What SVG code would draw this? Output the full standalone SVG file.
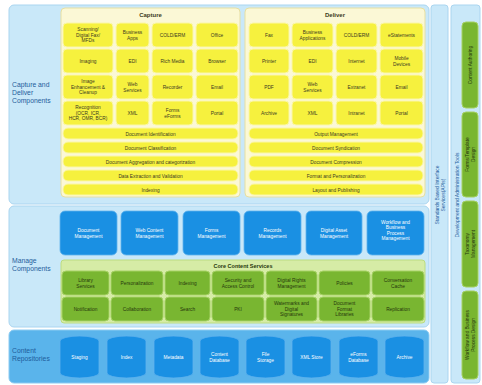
<svg xmlns="http://www.w3.org/2000/svg" width="482" height="385" viewBox="0 0 482 385">
<style>
text{font-family:"Liberation Sans",Arial,sans-serif;text-anchor:middle}
.sec{fill:#c9e8f9;stroke:#aad5f0;stroke-width:1}
.repo{fill:#5ab4eb;stroke:#8ccbf2;stroke-width:1}
.pan{fill:#fbf8d6;stroke:#e6dfa2;stroke-width:1}
.y{fill:#f6f13e;stroke:#fbf7a8;stroke-width:1}
.yt{font-size:4.8px;fill:#3b3a22}
.ttl{font-size:6px;font-weight:bold;fill:#3b3a22}
.b{fill:#1a90e3;stroke:#5fb3ee;stroke-width:0.8}
.bt{font-size:4.8px;fill:#ffffff}
.core{fill:#d6eca6;stroke:#bcdc80;stroke-width:1}
.g{fill:#79b631;stroke:#a6d165;stroke-width:1}
.gt{font-size:4.8px;fill:#26360c}
.lab{font-size:6.8px;fill:#1f5d9c;text-anchor:start}
.vt{font-size:5px;fill:#1f5d9c}
.vg{font-size:4.8px;fill:#26360c}
</style>

<!-- Capture and Deliver section -->
<g id="capture-deliver">
<rect class="sec" x="9" y="5" width="420" height="199" rx="5"/>
<text class="lab" x="12" y="87">Capture and</text>
<text class="lab" x="12" y="95">Deliver</text>
<text class="lab" x="12" y="103">Components</text>
</g>

<g id="capture">
<rect class="pan" x="61" y="8" width="179" height="189" rx="4"/>
<text class="ttl" x="150.5" y="17">Capture</text>
<rect class="y" x="63" y="23" width="50" height="24" rx="4"/>
<text class="yt" x="88" y="31.3">Scanning/</text><text class="yt" x="88" y="36.8">Digital Fax/</text><text class="yt" x="88" y="42.3">MFDs</text>
<rect class="y" x="116" y="23" width="33" height="24" rx="4"/>
<text class="yt" x="132.5" y="34.1">Business</text><text class="yt" x="132.5" y="39.6">Apps</text>
<rect class="y" x="152" y="23" width="41" height="24" rx="4"/>
<text class="yt" x="172.5" y="36.8">COLD/ERM</text>
<rect class="y" x="196" y="23" width="42" height="24" rx="4"/>
<text class="yt" x="217" y="36.8">Office</text>

<rect class="y" x="63" y="49" width="50" height="24" rx="4"/>
<text class="yt" x="88" y="62.8">Imaging</text>
<rect class="y" x="116" y="49" width="33" height="24" rx="4"/>
<text class="yt" x="132.5" y="62.8">EDI</text>
<rect class="y" x="152" y="49" width="41" height="24" rx="4"/>
<text class="yt" x="172.5" y="62.8">Rich Media</text>
<rect class="y" x="196" y="49" width="42" height="24" rx="4"/>
<text class="yt" x="217" y="62.8">Browser</text>

<rect class="y" x="63" y="75" width="50" height="24" rx="4"/>
<text class="yt" x="88" y="83.3">Image</text><text class="yt" x="88" y="88.8">Enhancement &amp;</text><text class="yt" x="88" y="94.3">Cleanup</text>
<rect class="y" x="116" y="75" width="33" height="24" rx="4"/>
<text class="yt" x="132.5" y="86.1">Web</text><text class="yt" x="132.5" y="91.6">Services</text>
<rect class="y" x="152" y="75" width="41" height="24" rx="4"/>
<text class="yt" x="172.5" y="88.8">Recorder</text>
<rect class="y" x="196" y="75" width="42" height="24" rx="4"/>
<text class="yt" x="217" y="88.8">Email</text>

<rect class="y" x="63" y="101" width="50" height="24" rx="4"/>
<text class="yt" x="88" y="109.3">Recognition</text><text class="yt" x="88" y="114.8">(OCR, ICR,</text><text class="yt" x="88" y="120.3">HCR, OMR, BCR)</text>
<rect class="y" x="116" y="101" width="33" height="24" rx="4"/>
<text class="yt" x="132.5" y="114.8">XML</text>
<rect class="y" x="152" y="101" width="41" height="24" rx="4"/>
<text class="yt" x="172.5" y="112.1">Forms</text><text class="yt" x="172.5" y="117.6">eForms</text>
<rect class="y" x="196" y="101" width="42" height="24" rx="4"/>
<text class="yt" x="217" y="114.8">Portal</text>

<rect class="y" x="63" y="128" width="175" height="11" rx="5"/>
<text class="yt" x="150.5" y="135.5">Document Identification</text>
<rect class="y" x="63" y="142" width="175" height="11" rx="5"/>
<text class="yt" x="150.5" y="149.5">Document Classification</text>
<rect class="y" x="63" y="156" width="175" height="11" rx="5"/>
<text class="yt" x="150.5" y="163.5">Document Aggregation and categorization</text>
<rect class="y" x="63" y="170" width="175" height="11" rx="5"/>
<text class="yt" x="150.5" y="177.5">Data Extraction and Validation</text>
<rect class="y" x="63" y="184" width="175" height="11" rx="5"/>
<text class="yt" x="150.5" y="191.5">Indexing</text>
</g>

<g id="deliver">
<rect class="pan" x="245" y="8" width="180" height="189" rx="4"/>
<text class="ttl" x="335" y="17">Deliver</text>
<rect class="y" x="249" y="23" width="40" height="24" rx="4"/>
<text class="yt" x="269" y="36.8">Fax</text>
<rect class="y" x="292" y="23" width="41" height="24" rx="4"/>
<text class="yt" x="312.5" y="34.1">Business</text><text class="yt" x="312.5" y="39.6">Applications</text>
<rect class="y" x="336" y="23" width="41" height="24" rx="4"/>
<text class="yt" x="356.5" y="36.8">COLD/ERM</text>
<rect class="y" x="380" y="23" width="43" height="24" rx="4"/>
<text class="yt" x="401.5" y="36.8">eStatements</text>

<rect class="y" x="249" y="49" width="40" height="24" rx="4"/>
<text class="yt" x="269" y="62.8">Printer</text>
<rect class="y" x="292" y="49" width="41" height="24" rx="4"/>
<text class="yt" x="312.5" y="62.8">EDI</text>
<rect class="y" x="336" y="49" width="41" height="24" rx="4"/>
<text class="yt" x="356.5" y="62.8">Internet</text>
<rect class="y" x="380" y="49" width="43" height="24" rx="4"/>
<text class="yt" x="401.5" y="60.1">Mobile</text><text class="yt" x="401.5" y="65.6">Devices</text>

<rect class="y" x="249" y="75" width="40" height="24" rx="4"/>
<text class="yt" x="269" y="88.8">PDF</text>
<rect class="y" x="292" y="75" width="41" height="24" rx="4"/>
<text class="yt" x="312.5" y="86.1">Web</text><text class="yt" x="312.5" y="91.6">Services</text>
<rect class="y" x="336" y="75" width="41" height="24" rx="4"/>
<text class="yt" x="356.5" y="88.8">Extranet</text>
<rect class="y" x="380" y="75" width="43" height="24" rx="4"/>
<text class="yt" x="401.5" y="88.8">Email</text>

<rect class="y" x="249" y="101" width="40" height="24" rx="4"/>
<text class="yt" x="269" y="114.8">Archive</text>
<rect class="y" x="292" y="101" width="41" height="24" rx="4"/>
<text class="yt" x="312.5" y="114.8">XML</text>
<rect class="y" x="336" y="101" width="41" height="24" rx="4"/>
<text class="yt" x="356.5" y="114.8">Intranet</text>
<rect class="y" x="380" y="101" width="43" height="24" rx="4"/>
<text class="yt" x="401.5" y="114.8">Portal</text>

<rect class="y" x="249" y="128" width="174" height="11" rx="5"/>
<text class="yt" x="336" y="135.5">Output Management</text>
<rect class="y" x="249" y="142" width="174" height="11" rx="5"/>
<text class="yt" x="336" y="149.5">Document Syndication</text>
<rect class="y" x="249" y="156" width="174" height="11" rx="5"/>
<text class="yt" x="336" y="163.5">Document Compression</text>
<rect class="y" x="249" y="170" width="174" height="11" rx="5"/>
<text class="yt" x="336" y="177.5">Format and Personalization</text>
<rect class="y" x="249" y="184" width="174" height="11" rx="5"/>
<text class="yt" x="336" y="191.5">Layout and Publishing</text>
</g>

<!-- Manage section -->
<g id="manage">
<rect class="sec" x="9" y="206" width="420" height="121" rx="5"/>
<text class="lab" x="12" y="263">Manage</text>
<text class="lab" x="12" y="271">Components</text>
<rect class="b" x="60" y="211" width="57" height="44" rx="5"/>
<text class="bt" x="88.5" y="232">Document</text><text class="bt" x="88.5" y="237.5">Management</text>
<rect class="b" x="121" y="211" width="57" height="44" rx="5"/>
<text class="bt" x="149.5" y="232">Web Content</text><text class="bt" x="149.5" y="237.5">Management</text>
<rect class="b" x="183" y="211" width="57" height="44" rx="5"/>
<text class="bt" x="211.5" y="232">Forms</text><text class="bt" x="211.5" y="237.5">Management</text>
<rect class="b" x="244" y="211" width="57" height="44" rx="5"/>
<text class="bt" x="272.5" y="232">Records</text><text class="bt" x="272.5" y="237.5">Management</text>
<rect class="b" x="306" y="211" width="56" height="44" rx="5"/>
<text class="bt" x="334" y="232">Digital Asset</text><text class="bt" x="334" y="237.5">Management</text>
<rect class="b" x="367" y="211" width="57" height="44" rx="5"/>
<text class="bt" x="395.5" y="223.5">Workflow and</text><text class="bt" x="395.5" y="229">Business</text><text class="bt" x="395.5" y="234.5">Process</text><text class="bt" x="395.5" y="240">Management</text>
</g>

<g id="core-content-services">
<rect class="core" x="61" y="260" width="364" height="63" rx="3"/>
<text class="ttl" x="243" y="267.5" style="font-size:5.5px;fill:#26360c">Core Content Services</text>
<rect class="g" x="62" y="271" width="47" height="24" rx="4"/>
<text class="gt" x="85.5" y="282.1">Library</text><text class="gt" x="85.5" y="287.6">Services</text>
<rect class="g" x="111" y="271" width="52" height="24" rx="4"/>
<text class="gt" x="137" y="284.8">Personalization</text>
<rect class="g" x="165" y="271" width="45" height="24" rx="4"/>
<text class="gt" x="187.5" y="284.8">Indexing</text>
<rect class="g" x="212" y="271" width="52" height="24" rx="4"/>
<text class="gt" x="238" y="282.1">Security and</text><text class="gt" x="238" y="287.6">Access Control</text>
<rect class="g" x="266" y="271" width="51" height="24" rx="4"/>
<text class="gt" x="291.5" y="282.1">Digital Rights</text><text class="gt" x="291.5" y="287.6">Management</text>
<rect class="g" x="319" y="271" width="51" height="24" rx="4"/>
<text class="gt" x="344.5" y="284.8">Policies</text>
<rect class="g" x="372" y="271" width="52" height="24" rx="4"/>
<text class="gt" x="398" y="282.1">Conversation</text><text class="gt" x="398" y="287.6">Cache</text>

<rect class="g" x="62" y="297" width="47" height="24" rx="4"/>
<text class="gt" x="85.5" y="310.8">Notification</text>
<rect class="g" x="111" y="297" width="52" height="24" rx="4"/>
<text class="gt" x="137" y="310.8">Collaboration</text>
<rect class="g" x="165" y="297" width="45" height="24" rx="4"/>
<text class="gt" x="187.5" y="310.8">Search</text>
<rect class="g" x="212" y="297" width="52" height="24" rx="4"/>
<text class="gt" x="238" y="310.8">PKI</text>
<rect class="g" x="266" y="297" width="51" height="24" rx="4"/>
<text class="gt" x="291.5" y="305.3">Watermarks and</text><text class="gt" x="291.5" y="310.8">Digital</text><text class="gt" x="291.5" y="316.3">Signatures</text>
<rect class="g" x="319" y="297" width="51" height="24" rx="4"/>
<text class="gt" x="344.5" y="305.3">Document</text><text class="gt" x="344.5" y="310.8">Format</text><text class="gt" x="344.5" y="316.3">Libraries</text>
<rect class="g" x="372" y="297" width="52" height="24" rx="4"/>
<text class="gt" x="398" y="310.8">Replication</text>
</g>

<!-- Content Repositories -->
<g id="repositories">
<rect class="repo" x="9" y="330" width="420" height="53" rx="5"/>
<text class="lab" x="12" y="353">Content</text>
<text class="lab" x="12" y="361">Repositories</text>
<path class="b" d="M60,341 A19.5,5 0 0 1 99,341 V373 A19.5,5 0 0 1 60,373 Z"/>
<text class="bt" x="79.5" y="359">Staging</text>
<path class="b" d="M107,341 A19.5,5 0 0 1 146,341 V373 A19.5,5 0 0 1 107,373 Z"/>
<text class="bt" x="126.5" y="359">Index</text>
<path class="b" d="M154,341 A19.5,5 0 0 1 193,341 V373 A19.5,5 0 0 1 154,373 Z"/>
<text class="bt" x="173.5" y="359">Metadata</text>
<path class="b" d="M200,341 A19.5,5 0 0 1 239,341 V373 A19.5,5 0 0 1 200,373 Z"/>
<text class="bt" x="219.5" y="356.3">Content</text><text class="bt" x="219.5" y="361.8">Database</text>
<path class="b" d="M246,341 A19.5,5 0 0 1 285,341 V373 A19.5,5 0 0 1 246,373 Z"/>
<text class="bt" x="265.5" y="356.3">File</text><text class="bt" x="265.5" y="361.8">Storage</text>
<path class="b" d="M292,341 A19.5,5 0 0 1 331,341 V373 A19.5,5 0 0 1 292,373 Z"/>
<text class="bt" x="311.5" y="359">XML Store</text>
<path class="b" d="M339,341 A19.5,5 0 0 1 378,341 V373 A19.5,5 0 0 1 339,373 Z"/>
<text class="bt" x="358.5" y="356.3">eForms</text><text class="bt" x="358.5" y="361.8">Database</text>
<path class="b" d="M385,341 A19.5,5 0 0 1 424,341 V373 A19.5,5 0 0 1 385,373 Z"/>
<text class="bt" x="404.5" y="359">Archive</text>
</g>

<!-- Right columns -->
<g id="standards-interface">
<rect class="sec" x="431" y="5" width="17" height="378" rx="3"/>
<g transform="translate(439.5,195) rotate(-90)">
<text class="vt" x="0" y="-1">Standards Based Interface</text>
<text class="vt" x="0" y="5">Services(APIs)</text>
</g>
</g>

<g id="dev-admin-tools">
<rect class="sec" x="451" y="5" width="29" height="378" rx="3"/>
<g transform="translate(457,195) rotate(-90)">
<text class="vt" x="0" y="1.5">Development and Administration Tools</text>
</g>
</g>
<g id="content-authoring">
<rect class="g" x="462" y="22" width="16" height="86" rx="4"/>
<text class="vg" transform="translate(471.7,65) rotate(-90)">Content Authoring</text>
</g>
<g id="forms-template-design">
<rect class="g" x="462" y="112" width="16" height="85" rx="4"/>
<g transform="translate(470,154.5) rotate(-90)"><text class="vg" y="-1">Forms/Template</text><text class="vg" y="4.5">Design</text></g>
</g>
<g id="taxonomy-management">
<rect class="g" x="462" y="201" width="16" height="86" rx="4"/>
<g transform="translate(470,244) rotate(-90)"><text class="vg" y="-1">Taxonomy</text><text class="vg" y="4.5">Management</text></g>
</g>
<g id="workflow-design">
<rect class="g" x="462" y="291" width="16" height="88" rx="4"/>
<g transform="translate(470,335) rotate(-90)"><text class="vg" y="-1">Workflow and Business</text><text class="vg" y="4.5">Process Design</text></g>
</g>

<g id="connectors"></g>
</svg>
